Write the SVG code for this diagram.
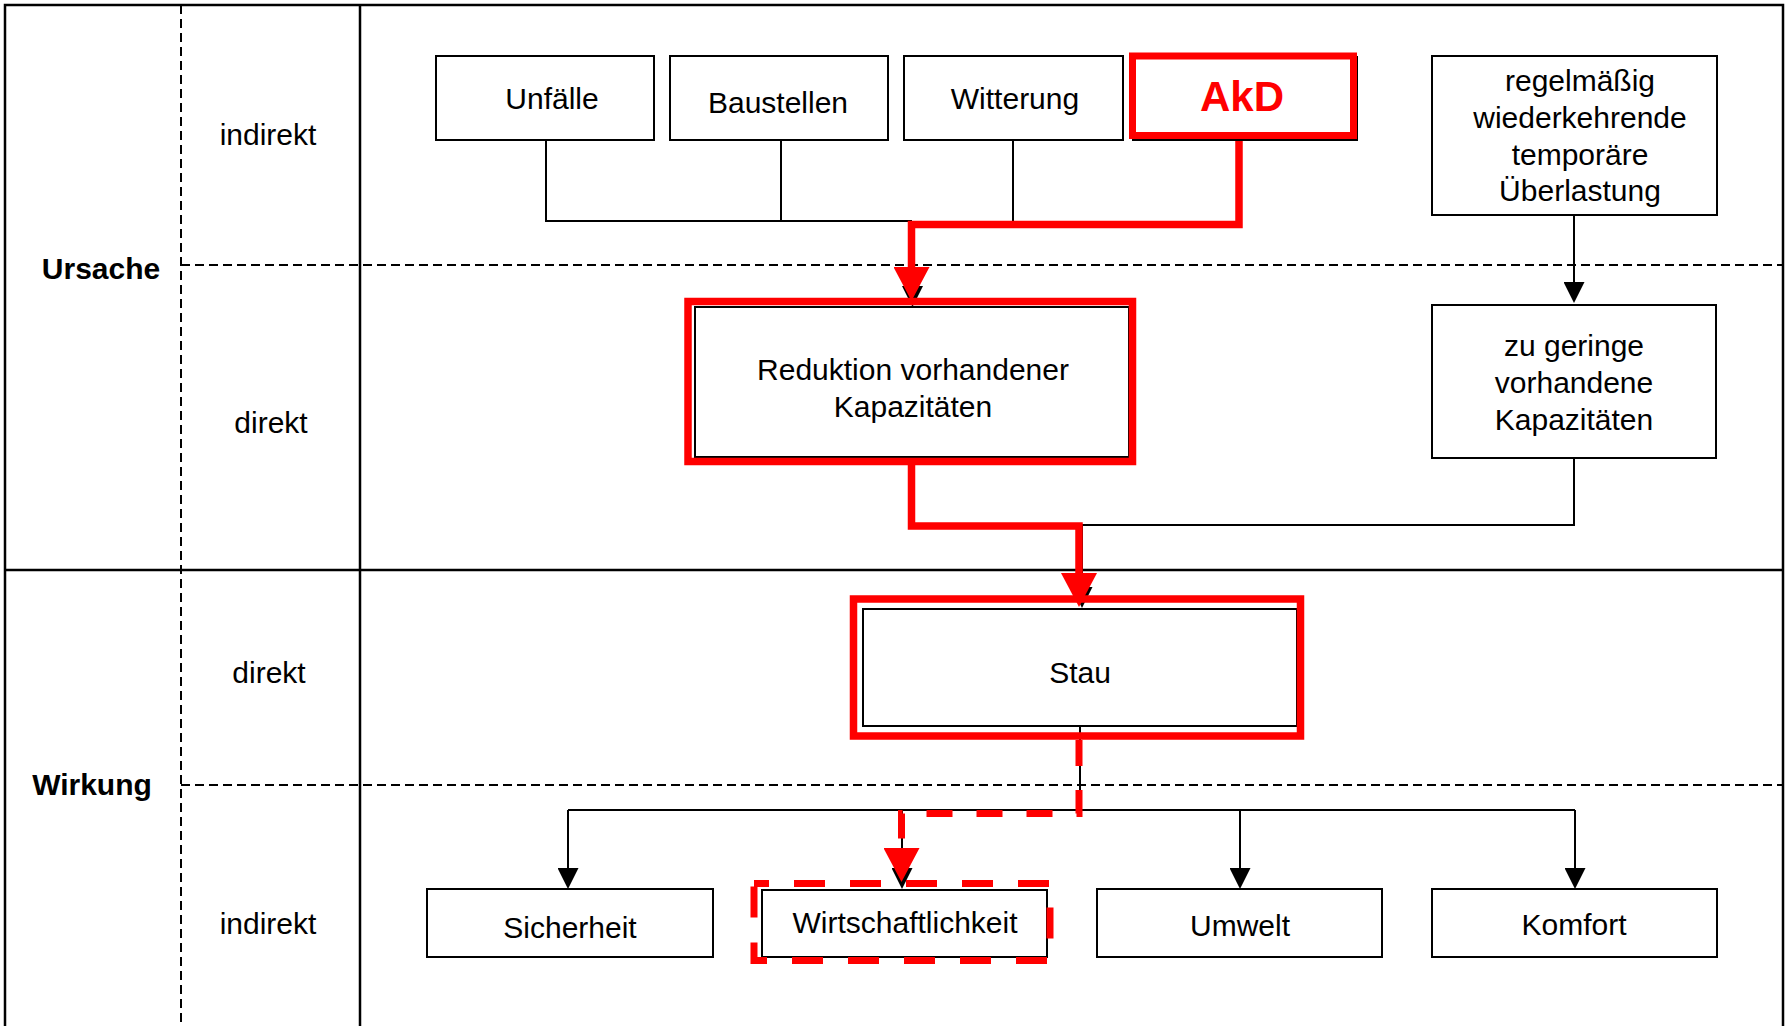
<svg xmlns="http://www.w3.org/2000/svg" width="1791" height="1026" viewBox="0 0 1791 1026">
<style>
  text { font-family: "Liberation Sans", Arial, "DejaVu Sans", sans-serif; font-size: 30px; fill: #000; text-anchor: middle; }
  .head { font-weight: bold; }
  .akd { font-weight: bold; font-size: 42px; fill: #ff0000; }
  .frame { stroke: #000; stroke-width: 2.5; fill: none; }
  .dash { stroke: #000; stroke-width: 2; stroke-dasharray: 9 5; fill: none; }
  .box { fill: #fff; stroke: #000; stroke-width: 2; }
  .hl { fill: none; stroke: #ff0000; stroke-width: 7.5; }
  .hld { fill: none; stroke: #ff0000; stroke-width: 7; stroke-dasharray: 31 25; stroke-dashoffset: 16; }
  .line { fill: none; stroke: #000; stroke-width: 2; }
  .rline { fill: none; stroke: #ff0000; stroke-width: 7.5; stroke-linejoin: miter; }
  .rdash { fill: none; stroke: #ff0000; stroke-width: 7; stroke-dasharray: 26 24; }
</style>
<defs>
  <marker id="arrow" markerUnits="userSpaceOnUse" viewBox="0 0 21 21" markerWidth="21" markerHeight="21" refX="0" refY="10.5" orient="auto">
    <path d="M0,0 L21,10.5 L0,21 z" fill="#000"/>
  </marker>
  <marker id="arrowRed" markerUnits="userSpaceOnUse" viewBox="0 0 34 36" markerWidth="34" markerHeight="36" refX="0" refY="18" orient="auto">
    <path d="M0,0 L34,18 L0,36 z" fill="#ff0000"/>
  </marker>
</defs>
<rect width="1791" height="1026" fill="#fff"/>

<g id="grid">
  <path class="frame" d="M5,1030 V5 H1783 V1030"/>
  <line class="frame" x1="360" y1="5" x2="360" y2="1030"/>
  <line class="frame" x1="5" y1="570" x2="1783" y2="570"/>
  <line class="dash" x1="181" y1="5" x2="181" y2="1030"/>
  <line class="dash" x1="181" y1="265" x2="1783" y2="265"/>
  <line class="dash" x1="181" y1="785" x2="1783" y2="785"/>
</g>

<g id="labels">
  <text class="head" x="101" y="279">Ursache</text>
  <text class="head" x="92" y="795">Wirkung</text>
  <text x="268" y="145">indirekt</text>
  <text x="271" y="433">direkt</text>
  <text x="269" y="683">direkt</text>
  <text x="268" y="934">indirekt</text>
</g>

<g id="connectors">
  <path class="line" d="M546,140 V221 H912"/>
  <path class="line" d="M781,140 V221"/>
  <path class="line" d="M1013,140 V221"/>
  <path class="line" d="M912.5,221 V286" marker-end="url(#arrow)"/>
  <path class="line" d="M1574,215 V282" marker-end="url(#arrow)"/>
  <path class="line" d="M1574,458 V525 H1082 V587" marker-end="url(#arrow)"/>
  <path class="line" d="M1080,726 V810"/>
  <path class="line" d="M568,810 H1575"/>
  <path class="line" d="M568,810 V868" marker-end="url(#arrow)"/>
  <path class="line" d="M902,810 V868" marker-end="url(#arrow)"/>
  <path class="line" d="M1240,810 V868" marker-end="url(#arrow)"/>
  <path class="line" d="M1575,810 V868" marker-end="url(#arrow)"/>
  <path class="rline" d="M1239,139 V224.5 H911.5 V267" marker-end="url(#arrowRed)"/>
  <path class="rline" d="M911.5,465 V526 H1079 V573" marker-end="url(#arrowRed)"/>
  <path class="rdash" d="M1079,740 V813.5 H901.5 V848" marker-end="url(#arrowRed)"/>
</g>

<g id="node-unfaelle">
  <rect class="box" x="436" y="56" width="218" height="84"/>
  <text x="552" y="109">Unfälle</text>
</g>
<g id="node-baustellen">
  <rect class="box" x="670" y="56" width="218" height="84"/>
  <text x="778" y="113">Baustellen</text>
</g>
<g id="node-witterung">
  <rect class="box" x="904" y="56" width="219" height="84"/>
  <text x="1015" y="109">Witterung</text>
</g>
<g id="node-akd">
  <rect class="box" x="1133" y="57" width="224" height="83"/>
  <rect class="hl" x="1132.5" y="56" width="221" height="79.5" style="stroke-width:7"/>
  <text class="akd" x="1242" y="111">AkD</text>
</g>
<g id="node-regelmaessig">
  <rect class="box" x="1432" y="56" width="285" height="159"/>
  <text x="1580" y="91">regelmäßig</text>
  <text x="1580" y="128">wiederkehrende</text>
  <text x="1580" y="165">temporäre</text>
  <text x="1580" y="201">Überlastung</text>
</g>
<g id="node-reduktion">
  <rect class="box" x="695" y="307" width="434" height="150"/>
  <rect class="hl" x="688" y="301.5" width="444.5" height="160"/>
  <text x="913" y="380">Reduktion vorhandener</text>
  <text x="913" y="417">Kapazitäten</text>
</g>
<g id="node-zugeringe">
  <rect class="box" x="1432" y="305" width="284" height="153"/>
  <text x="1574" y="356">zu geringe</text>
  <text x="1574" y="393">vorhandene</text>
  <text x="1574" y="430">Kapazitäten</text>
</g>
<g id="node-stau">
  <rect class="box" x="863" y="609" width="434" height="117"/>
  <rect class="hl" x="853.5" y="599" width="447" height="137"/>
  <text x="1080" y="683">Stau</text>
</g>
<g id="node-sicherheit">
  <rect class="box" x="427" y="889" width="286" height="68"/>
  <text x="570" y="938">Sicherheit</text>
</g>
<g id="node-wirtschaftlichkeit">
  <rect class="box" x="762" y="890" width="285" height="67"/>
  <rect class="hld" x="754" y="883.5" width="296" height="77"/>
  <text x="905" y="933">Wirtschaftlichkeit</text>
</g>
<g id="node-umwelt">
  <rect class="box" x="1097" y="889" width="285" height="68"/>
  <text x="1240" y="936">Umwelt</text>
</g>
<g id="node-komfort">
  <rect class="box" x="1432" y="889" width="285" height="68"/>
  <text x="1574" y="935">Komfort</text>
</g>
</svg>
